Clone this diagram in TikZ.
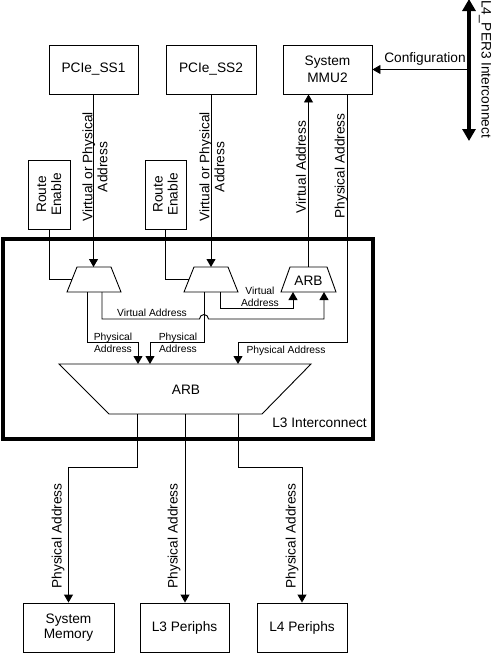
\documentclass[tikz,border=0pt]{standalone}
\usepackage{fontspec}
\setmainfont{Liberation Sans}
\usetikzlibrary{arrows.meta}
\begin{document}
\begin{tikzpicture}[x=1pt,y=-1pt,
  box/.style={draw,line width=0.9pt,inner sep=0pt,align=center,font=\fontsize{13.7}{15}\selectfont},
  lbl/.style={inner sep=0pt,align=center,font=\fontsize{13.7}{15}\selectfont},
  slbl/.style={inner sep=0pt,align=center,font=\fontsize{10.3}{12}\selectfont},
  wire/.style={line width=0.9pt},
  arr/.style={wire,-{Triangle[width=9pt,length=8pt]}},
  trapline/.style={draw,line width=0.9pt,line join=miter},
  bus/.style={line width=4pt,{Triangle[width=13pt,length=12pt]}-{Triangle[width=13pt,length=12pt]}}
]
\useasboundingbox (0,0) rectangle (491,653);

% L3 interconnect frame
\node[draw,line width=3.6pt,minimum width=370pt,minimum height=200pt,inner sep=0pt] (l3) at (188,339) {};
\node[lbl,anchor=east] at (367,423) {L3 Interconnect};

% top boxes
\node[box,minimum width=89pt,minimum height=49pt] (p1) at (93.5,69.5) {PCIe\_SS1};
\node[box,minimum width=90pt,minimum height=49pt] (p2) at (211,69.5) {PCIe\_SS2};
\node[box,minimum width=89pt,minimum height=49pt,font=\fontsize{13.7}{17}\selectfont] (mmu) at (327.5,69.5) {System\\MMU2};

% route enable boxes
\node[box,minimum width=42pt,minimum height=69pt] (re1) at (49,194.5) {};
\node[lbl,rotate=90] at (re1) {Route\\Enable};
\node[box,minimum width=41pt,minimum height=69pt] (re2) at (165.5,194.5) {};
\node[lbl,rotate=90] at (re2) {Route\\Enable};

% muxes and arbiters (drawn shapes)
\draw[trapline] (77,267) -- (111,267) -- (121,292) -- (67,292) -- cycle;
\coordinate (m1n) at (94,267); \coordinate (m1s) at (94,292); \coordinate (m1w) at (72,279.5);
\draw[trapline] (194,267) -- (228,267) -- (238,292) -- (184,292) -- cycle;
\coordinate (m2n) at (211,267); \coordinate (m2s) at (211,292); \coordinate (m2w) at (189,279.5);
\draw[trapline] (290,267) -- (327,267) -- (336,292) -- (281,292) -- cycle;
\node[lbl] (sa) at (308.5,280.5) {ARB};
\coordinate (san) at (308.5,267); \coordinate (sas) at (308.5,292);
\draw[trapline] (59,364) -- (311,364) -- (262,414) -- (109,414) -- cycle;
\node[lbl] (ba) at (186,390) {ARB};
\coordinate (ban) at (185,364); \coordinate (bas) at (185,414);

% bottom boxes
\node[box,minimum width=91pt,minimum height=49pt] (sm) at (68.5,627.5) {System\\Memory};
\node[box,minimum width=89pt,minimum height=49pt] (l3p) at (184.5,627.5) {L3 Periphs};
\node[box,minimum width=90pt,minimum height=49pt] (l4p) at (302,627.5) {L4 Periphs};

% L4_PER3 interconnect bus
\coordinate (bt) at (469,-1);
\coordinate (bb) at (469,141);
\coordinate (cfg) at (469,69.5);
\draw[bus] (bt) -- (bb);
\node[lbl,rotate=-90] at (485,69) {L4\_PER3 Interconnect};
\draw[arr] (cfg) -- (mmu.east);
\node[lbl] at (425,59) {Configuration};

% PCIe to muxes
\draw[arr] (p1.south) -- (p1.south |- m1n);
\draw[arr] (p2.south) -- (p2.south |- m2n);
\node[lbl,rotate=90] at (95,167) {Virtual or Physical\\Address};
\node[lbl,rotate=90] at (212,167) {Virtual or Physical\\Address};

% route enable to muxes
\draw[wire] (re1.south) |- (m1w);
\draw[wire] (re2.south) |- (m2w);

% mux1 physical
\coordinate (j1) at (138,342);
\draw[arr] ([xshift=-7pt]m1s) |- (j1) -- (j1 |- ban);
\node[slbl] at (113,343) {Physical\\Address};
% mux2 physical
\coordinate (j2) at (150,342);
\draw[arr] ([xshift=-7pt]m2s) |- (j2) -- (j2 |- ban);
\node[slbl] at (178,343) {Physical\\Address};

% mux1 virtual (with jump)
\coordinate (jp) at (199.5,319);
\draw[arr] ([xshift=8pt]m1s) |- (jp) arc[start angle=180,end angle=0,radius=4.5pt] -| ([xshift=15.5pt]sas);
\node[slbl] at (152,312.5) {Virtual Address};
% mux2 virtual
\coordinate (j3) at (293,308);
\draw[arr] ([xshift=9pt]m2s) |- (j3) -- (j3 |- sas);
\node[slbl] at (260,297) {Virtual\\Address};

% small arb to MMU
\draw[arr] (san) -- (san |- mmu.south);
\node[lbl,rotate=90] at (301,167) {Virtual Address};
% MMU physical back
\coordinate (j4) at (238,342);
\draw[arr] ([xshift=19.5pt]mmu.south) |- (j4) -- (j4 |- ban);
\node[lbl,rotate=90] at (341,166) {Physical Address};
\node[slbl] at (286,351) {Physical Address};

% big arb outputs
\draw[arr] ([xshift=-48pt]bas) -- ++(0,53) -| (sm.north);
\draw[arr] (bas) -- (bas |- l3p.north);
\draw[arr] ([xshift=53pt]bas) -- ++(0,53) -| (l4p.north);
\node[lbl,rotate=90] at (58,536) {Physical Address};
\node[lbl,rotate=90] at (174,536) {Physical Address};
\node[lbl,rotate=90] at (292,536) {Physical Address};
\end{tikzpicture}
\end{document}
